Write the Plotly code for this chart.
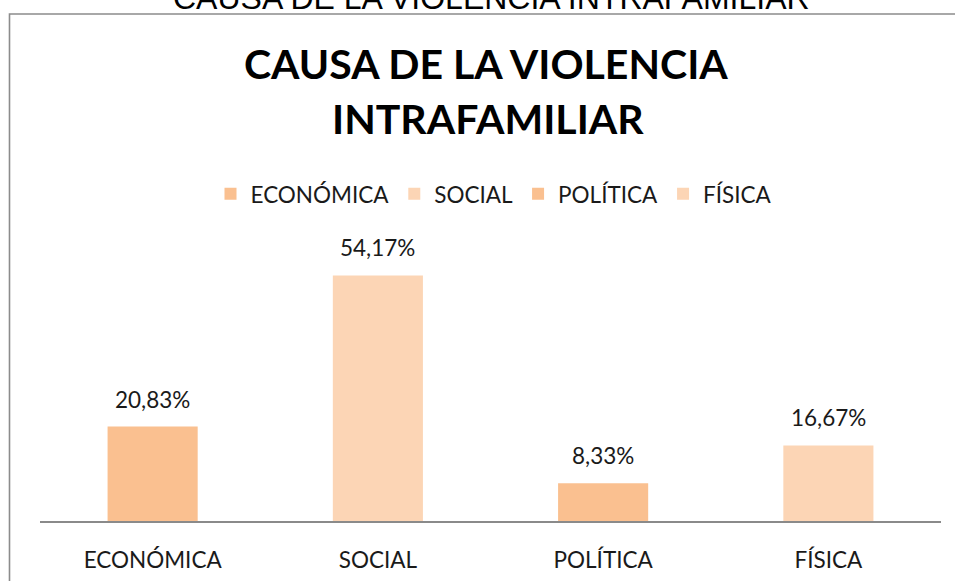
import plotly.graph_objects as go

categories = ["ECONÓMICA", "SOCIAL", "POLÍTICA", "FÍSICA"]
values = [20.83, 54.17, 8.33, 16.67]
labels = ["20,83%", "54,17%", "8,33%", "16,67%"]
colors = ["#FAC090", "#FCD5B5", "#FAC090", "#FCD5B5"]

W, H = 955, 581
L, R = 40, 941          # plot area x in px
T, B = 249, 521.5       # plot area y in px

def px_x(p):
    return (p - L) / (R - L)

def px_y(p):
    return (B - p) / (B - T)

FONT = "Lato"
FS = 22.5

fig = go.Figure()
for cat, val, col in zip(categories, values, colors):
    fig.add_trace(go.Bar(
        x=[cat], y=[val], name=cat, width=0.4,
        marker=dict(color=col, line=dict(width=0)),
        hoverinfo="skip",
    ))

annotations = []
for cat, val, lab in zip(categories, values, labels):
    annotations.append(dict(
        x=cat, y=val, xref="x", yref="y", text=lab, showarrow=False,
        yanchor="bottom", yshift=12,
        font=dict(family=FONT, size=FS, color="#1a1a1a"),
    ))

# cropped document heading at the very top
annotations.append(dict(
    x=px_x(491), y=px_y(-2), xref="paper", yref="paper",
    text="CAUSA DE LA VIOLENCIA INTRAFAMILIAR", showarrow=False,
    xanchor="center", yanchor="middle",
    font=dict(family="Liberation Sans, Arial", size=32, color="#000000"),
))
# bold chart title (two lines)
annotations.append(dict(
    x=px_x(486), y=px_y(63.5), xref="paper", yref="paper",
    text="<b>CAUSA DE LA VIOLENCIA</b>", showarrow=False,
    xanchor="center", yanchor="middle",
    font=dict(family=FONT, size=41, color="#000000"),
))
annotations.append(dict(
    x=px_x(488), y=px_y(118.5), xref="paper", yref="paper",
    text="<b>INTRAFAMILIAR</b>", showarrow=False,
    xanchor="center", yanchor="middle",
    font=dict(family=FONT, size=41, color="#000000"),
))

fig.update_layout(
    width=W, height=H,
    margin=dict(l=L, r=W - R, t=T, b=H - B, pad=0, autoexpand=False),
    paper_bgcolor="white", plot_bgcolor="white",
    barmode="relative",
    showlegend=True,
    legend=dict(
        orientation="h", x=px_x(494), xanchor="center",
        y=px_y(194), yanchor="middle",
        font=dict(family=FONT, size=FS, color="#1a1a1a"),
        bgcolor="rgba(0,0,0,0)", traceorder="normal",
    ),
    xaxis=dict(
        showline=True, linecolor="#8a8a8a", linewidth=1.5,
        showgrid=False, ticks="", zeroline=False, automargin=False,
        tickfont=dict(family=FONT, size=FS, color="#1a1a1a"),
        ticklabelstandoff=18,
    ),
    yaxis=dict(range=[0, 60], visible=False, showgrid=False, zeroline=False,
               automargin=False),
    annotations=annotations,
    shapes=[dict(
        type="rect", xref="paper", yref="paper",
        x0=px_x(9.5), x1=px_x(1100), y0=px_y(800), y1=px_y(13.5),
        line=dict(color="#8c8c8c", width=1.6), fillcolor="rgba(0,0,0,0)",
        layer="below",
    )],
)

fig.write_html(
    "out.html",
    config={"displayModeBar": False},
    post_script="document.body.style.margin='0';document.body.style.overflow='hidden';",
)
